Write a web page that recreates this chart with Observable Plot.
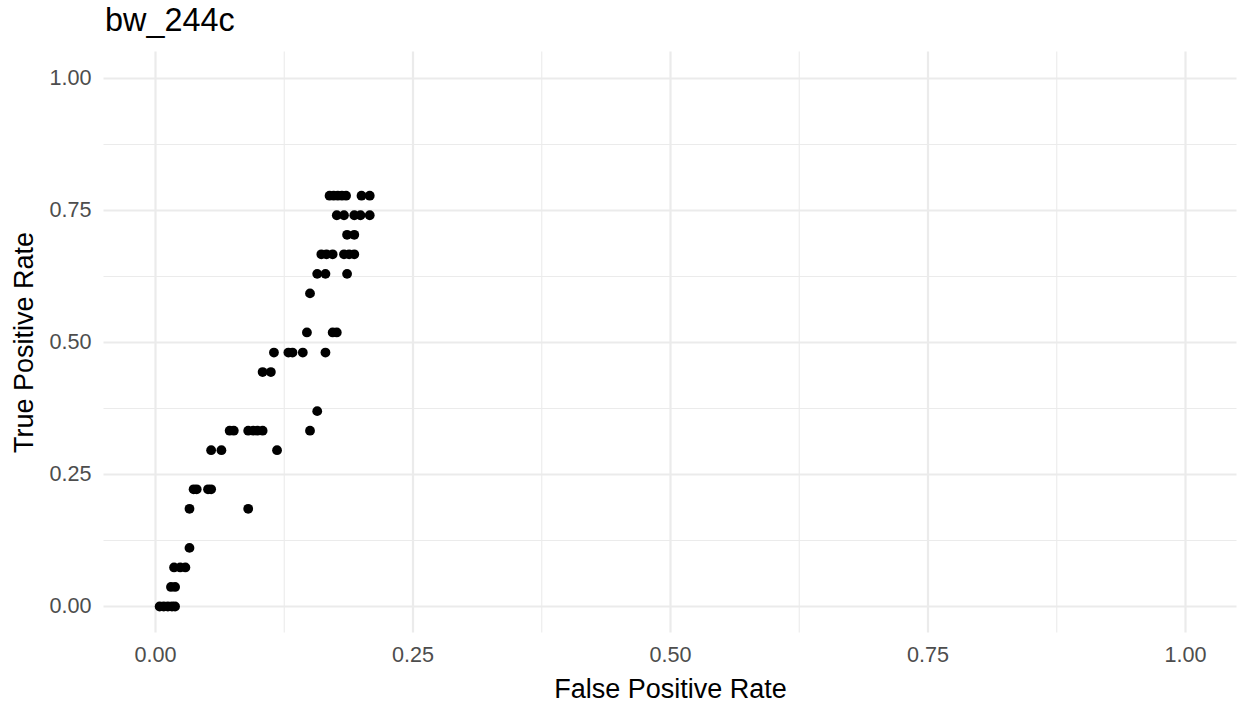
<!DOCTYPE html>
<html>
<head>
<meta charset="utf-8">
<script src="https://cdn.jsdelivr.net/npm/d3@7"></script>
<script src="https://cdn.jsdelivr.net/npm/@observablehq/plot@0.6"></script>
<style>
  html, body { margin: 0; padding: 0; background: #ffffff; }
  #title { font-family: "Liberation Sans", Arial, sans-serif; font-size: 32.4px; line-height: 41px; height: 40px; padding-left: 105px; color: #000; white-space: nowrap; }
  svg { display: block; }
</style>
</head>
<body>
<div id="title">bw_244c</div>
<div id="chart"></div>
<script>
const titleText = "bw_244c";
const xLabel = "False Positive Rate";
const yLabel = "True Positive Rate";
const majorTicks = [0, 0.25, 0.5, 0.75, 1];
const minorTicks = [0.125, 0.375, 0.625, 0.875];

// TPR levels (multiples of 1/27) and FPR values
const tpr = [
  0.778, 0.778, 0.778, 0.778, 0.778, 0.778, 0.778,
  0.741, 0.741, 0.741, 0.741, 0.741,
  0.704, 0.704,
  0.667, 0.667, 0.667, 0.667, 0.667, 0.667,
  0.630, 0.630, 0.630,
  0.593,
  0.519, 0.519, 0.519,
  0.481, 0.481, 0.481, 0.481, 0.481,
  0.444, 0.444,
  0.370,
  0.333, 0.333, 0.333, 0.333, 0.333, 0.333, 0.333,
  0.296, 0.296, 0.296,
  0.222, 0.222, 0.222, 0.222,
  0.185, 0.185,
  0.111,
  0.074, 0.074, 0.074,
  0.037, 0.037,
  0.000, 0.000, 0.000, 0.000, 0.000
];
const fpr = [
  0.169, 0.173, 0.177, 0.181, 0.185, 0.200, 0.208,
  0.176, 0.183, 0.193, 0.199, 0.208,
  0.186, 0.193,
  0.161, 0.166, 0.172, 0.183, 0.188, 0.193,
  0.157, 0.165, 0.186,
  0.150,
  0.147, 0.172, 0.176,
  0.115, 0.129, 0.133, 0.143, 0.165,
  0.104, 0.112,
  0.157,
  0.072, 0.076, 0.090, 0.095, 0.099, 0.104, 0.150,
  0.054, 0.064, 0.118,
  0.037, 0.040, 0.051, 0.054,
  0.033, 0.090,
  0.033,
  0.018, 0.024, 0.029,
  0.015, 0.019,
  0.004, 0.008, 0.012, 0.016, 0.019
];

document.getElementById("title").textContent = titleText;

const data = fpr.map((x, i) => ({fpr: x, tpr: tpr[i]}));
const font = "'Liberation Sans', Arial, sans-serif";

const chart = Plot.plot({
  width: 1238,
  height: 666,
  marginLeft: 103.5,
  marginRight: 1.5,
  marginTop: 11.6,
  marginBottom: 73.6,
  style: {fontFamily: font, background: "#ffffff"},
  x: {domain: [-0.05, 1.05]},
  y: {domain: [-0.05, 1.05]},
  marks: [
    Plot.ruleX(minorTicks, {stroke: "#ebebeb", strokeWidth: 1.1}),
    Plot.ruleY(minorTicks, {stroke: "#ebebeb", strokeWidth: 1.1}),
    Plot.ruleX(majorTicks, {stroke: "#ebebeb", strokeWidth: 2.2}),
    Plot.ruleY(majorTicks, {stroke: "#ebebeb", strokeWidth: 2.2}),
    Plot.axisX(majorTicks, {tickSize: 0, tickPadding: 14, tickFormat: d3.format(".2f"), fontSize: 21.6, fill: "#4d4d4d", label: null}),
    Plot.axisY(majorTicks, {tickSize: 0, tickPadding: 12.5, tickFormat: d3.format(".2f"), fontSize: 21.6, fill: "#4d4d4d", label: null}),
    Plot.text([xLabel], {frameAnchor: "bottom", dy: 56.3, lineAnchor: "middle", textAnchor: "middle", fontSize: 27, fill: "#000000"}),
    Plot.text([yLabel], {frameAnchor: "left", dx: -79.5, rotate: -90, lineAnchor: "middle", textAnchor: "middle", fontSize: 27, fill: "#000000"}),
    Plot.dot(data, {x: "fpr", y: "tpr", r: 4.9, fill: "#000000", stroke: null})
  ]
});
document.getElementById("chart").appendChild(chart);
</script>
</body>
</html>
